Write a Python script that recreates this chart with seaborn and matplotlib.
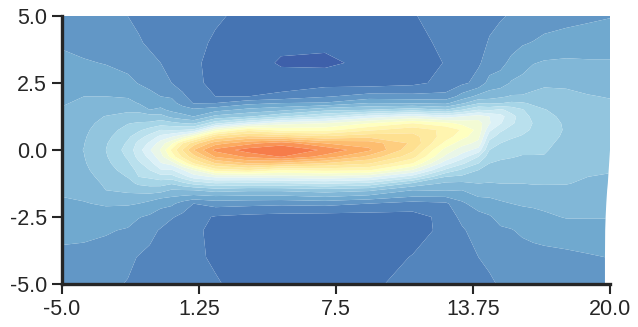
import numpy as np
import seaborn as sns
import matplotlib.pyplot as plt

# band values, one list per x position, top row first
y_rows = [5, 4, 3.25, 2.5, 2, 1.75, 1.5, 1.25, 1, .75, .5, .25, 0,
          -.25, -.5, -.75, -1, -1.25, -1.5, -1.75, -2, -2.5, -3, -4, -5]
x_cols = [-5, -4, -3, -2, -1.5, -1, -.5, 0, .5, 1, 2, 3.5, 5, 7, 9, 11, 12.5, 13.25,
          14, 14.5, 15, 15.5, 16, 16.5, 17, 18, 19, 20]

col_m5 = [3.7, 3.85, 4.3, 4.5, 4.75, 4.9, 5.1, 5.25, 5.4, 5.5, 5.6, 5.65, 5.65,
          5.6, 5.55, 5.45, 5.35, 5.25, 5.1, 5.0, 4.85, 4.55, 4.3, 3.75, 3.4]
col_m4 = [3.45, 3.65, 4.1, 4.6, 5.0, 5.2, 5.4, 5.55, 5.7, 5.8, 5.9, 5.97, 6.02,
          5.97, 5.9, 5.8, 5.65, 5.5, 5.3, 5.1, 4.95, 4.6, 4.25, 3.7, 3.3]
col_m3 = [3.25, 3.5, 3.95, 4.5, 5.0, 5.2, 5.55, 6.05, 6.3, 6.55, 6.7, 6.9, 7.0,
          6.9, 6.75, 6.55, 6.35, 6.15, 6.0, 5.4, 5.1, 4.6, 4.1, 3.6, 3.2]
col_m2 = [3.0, 3.2, 3.7, 4.25, 4.9, 5.3, 5.8, 6.35, 6.95, 7.35, 7.8, 8.15, 8.4,
          8.15, 7.8, 7.45, 7.05, 6.6, 6.2, 5.7, 5.1, 4.4, 3.9, 3.2, 2.95]
col_m15 = [2.8, 3.1, 3.55, 3.95, 4.6, 4.95, 5.75, 6.4, 7.1, 7.8, 8.6, 9.3, 9.6,
           9.35, 8.8, 8.3, 8.0, 7.2, 6.3, 5.65, 5.0, 4.05, 3.6, 2.95, 2.75]
col_m1 = [2.7, 2.85, 3.25, 3.75, 4.25, 4.6, 5.0, 6.45, 7.15, 8.4, 9.35, 10.2, 10.9,
          10.3, 9.6, 9.0, 8.2, 7.35, 6.5, 5.5, 4.7, 3.85, 3.3, 2.75, 2.6]
col_m05 = [2.6, 2.65, 3.0, 3.4, 4.0, 4.6, 5.2, 6.4, 7.5, 9.0, 10.3, 11.5, 12.1,
           11.6, 10.9, 9.9, 8.6, 7.4, 6.4, 5.2, 4.3, 3.5, 2.9, 2.6, 2.55]
col_0 = [2.5, 2.5, 2.8, 3.0, 3.9, 4.3, 4.75, 5.7, 7.3, 8.9, 10.9, 12.8, 14.2,
         13.4, 11.4, 9.9, 8.6, 7.1, 5.9, 5.0, 4.2, 3.1, 2.5, 2.5, 2.5]
col_05 = [2.4, 2.35, 2.5, 2.6, 3.2, 3.65, 4.45, 5.35, 7.0, 9.0, 11.8, 15.0, 16.05,
          15.2, 13.2, 10.9, 9.5, 7.7, 5.95, 4.8, 3.6, 2.75, 2.35, 2.35, 2.4]
col_1 = [2.25, 2.2, 2.2, 2.35, 2.6, 2.95, 4.2, 5.0, 6.8, 9.2, 13.2, 16.5, 18.0,
         16.6, 15.0, 12.0, 10.5, 8.3, 6.0, 4.6, 3.0, 2.4, 2.2, 2.2, 2.25]
col_2 = [2.1, 1.9, 1.65, 1.6, 2.0, 3.0, 4.6, 6.3, 8.7, 12.6, 16.2, 18.6, 20.3,
         19.1, 17.0, 14.5, 11.2, 8.9, 6.4, 4.8, 3.4, 1.9, 1.75, 1.85, 2.1]
col_35 = [1.8, 1.5, 1.4, 1.5, 2.0, 3.7, 5.3, 6.9, 10.3, 14.6, 17.2, 19.7, 21.5,
          20.2, 18.0, 15.0, 11.3, 8.7, 6.2, 4.7, 3.3, 1.7, 1.4, 1.4, 1.6]
col_5 = [1.5, 1.2, .9, 1.4, 2.3, 4.0, 5.7, 7.9, 11.6, 13.6, 16.9, 20.6, 21.8,
         21.05, 17.7, 14.0, 11.5, 8.8, 6.2, 4.7, 3.2, 1.6, 1.35, 1.2, 1.4]
col_7 = [1.5, 1.2, .8, 1.6, 2.9, 4.1, 6.7, 9.0, 12.0, 13.6, 16.2, 19.0, 20.85,
         19.6, 16.9, 14.3, 11.7, 9.1, 6.5, 5.0, 3.3, 1.5, 1.3, 1.3, 1.4]
col_9 = [1.6, 1.3, 1.25, 1.5, 3.4, 5.0, 7.0, 10.4, 13.0, 14.8, 16.7, 18.6, 19.2,
         17.7, 16.1, 14.1, 11.3, 8.7, 6.2, 4.6, 3.0, 1.5, 1.2, 1.5, 1.8]
col_11 = [1.95, 1.7, 1.5, 1.75, 3.3, 4.9, 7.6, 11.3, 14.0, 15.6, 16.4, 16.8, 16.2,
          15.4, 14.0, 11.9, 9.5, 6.8, 5.0, 3.95, 2.6, 1.6, 1.6, 2.05, 2.35]
col_125 = [2.3, 2.2, 2.05, 2.3, 3.3, 4.75, 7.0, 10.5, 13.3, 14.75, 14.5, 13.7, 12.6,
           11.8, 10.4, 8.8, 7.0, 5.8, 5.1, 4.0, 2.8, 2.3, 2.25, 2.4, 2.65]
col_1325 = [2.5, 2.45, 2.4, 2.8, 4.4, 5.8, 8.0, 11.0, 12.7, 13.9, 13.4, 12.4, 11.5,
            10.5, 9.2, 7.8, 6.8, 5.75, 5.0, 4.3, 3.85, 3.3, 2.85, 2.65, 2.65]
col_14 = [2.7, 2.8, 2.9, 3.3, 5.3, 6.9, 9.0, 11.5, 12.45, 12.65, 12.3, 11.7, 10.6,
          9.0, 8.0, 7.0, 6.5, 6.0, 5.5, 5.0, 4.4, 3.7, 3.5, 3.0, 2.7]
col_145 = [2.85, 3.05, 3.35, 4.4, 5.5, 6.85, 8.8, 11.0, 11.1, 10.25, 9.4, 8.6, 8.0,
           7.5, 7.0, 6.65, 6.3, 5.95, 5.5, 5.05, 4.6, 3.9, 3.6, 3.2, 2.85]
col_15 = [2.95, 3.2, 3.7, 4.5, 5.8, 6.95, 9.2, 10.4, 10.1, 9.2, 8.6, 8.0, 7.6,
          7.2, 6.8, 6.6, 6.3, 6.0, 5.6, 5.2, 4.85, 4.3, 3.85, 3.4, 3.1]
col_155 = [3.05, 3.6, 4.25, 5.1, 6.1, 7.2, 8.6, 9.35, 9.15, 8.65, 8.15, 7.7, 7.35,
           7.05, 6.8, 6.5, 6.3, 6.0, 5.6, 5.3, 5.0, 4.4, 3.95, 3.45, 3.15]
col_16 = [3.15, 3.9, 4.6, 5.3, 6.1, 7.1, 8.1, 8.55, 8.6, 8.3, 7.9, 7.4, 7.15,
          6.95, 6.7, 6.5, 6.25, 6.0, 5.7, 5.4, 5.1, 4.6, 4.15, 3.6, 3.2]
col_165 = [3.3, 4.05, 4.95, 5.7, 6.2, 6.85, 7.3, 7.7, 7.95, 7.85, 7.6, 7.35, 7.15,
           6.95, 6.7, 6.5, 6.3, 6.05, 5.75, 5.45, 5.15, 4.7, 4.3, 3.65, 3.25]
col_17 = [3.4, 4.3, 5.1, 5.85, 6.3, 6.65, 7.05, 7.3, 7.5, 7.5, 7.35, 7.2, 7.1,
          6.95, 6.75, 6.55, 6.35, 6.05, 5.8, 5.5, 5.2, 4.85, 4.4, 3.7, 3.3]
col_18 = [3.6, 4.5, 5.15, 5.85, 6.2, 6.4, 6.6, 6.75, 6.85, 6.9, 6.85, 6.75, 6.6,
          6.5, 6.4, 6.3, 6.15, 6.03, 5.85, 5.6, 5.35, 5.05, 4.6, 3.75, 3.4]
col_19 = [3.8, 4.55, 5.1, 5.7, 6.05, 6.25, 6.4, 6.55, 6.6, 6.65, 6.6, 6.55, 6.45,
          6.35, 6.3, 6.15, 6.0, 5.9, 5.7, 5.5, 5.35, 5.05, 4.65, 3.9, 3.5]
col_20 = [3.95, 4.55, 5.1, 5.6, 5.95, 6.1, 6.2, 6.3, 6.35, 6.4, 6.4, 6.35, 6.3,
          6.2, 6.15, 6.05, 5.95, 5.8, 5.65, 5.5, 5.35, 5.05, 4.65, 4.0, 3.6]

# the fill stops a little short of 20 towards the bottom right
right_edge = [20, 20, 20, 20, 20, 20, 20, 20, 20, 20, 20, 20, 20,
              19.98, 19.96, 19.94, 19.92, 19.9, 19.87, 19.85, 19.83, 19.8, 19.78, 19.77, 19.77]

x_ticks = [-5.0, 1.25, 7.5, 13.75, 20.0]
y_ticks = [-5.0, -2.5, 0.0, 2.5, 5.0]

sns.set_style("ticks")
plt.rcParams['font.family'] = ['Liberation Sans', 'DejaVu Sans']
plt.rcParams['axes.unicode_minus'] = False

z = np.column_stack([col_m5, col_m4, col_m3, col_m2, col_m15, col_m1, col_m05, col_0, col_05, col_1,
                     col_2, col_35, col_5, col_7, col_9, col_11, col_125, col_1325, col_14, col_145,
                     col_15, col_155, col_16, col_165, col_17, col_18, col_19, col_20])
X, Y = np.meshgrid(x_cols, y_rows)
X[:, -1] = right_edge

levels = np.arange(0, 23)
cmap = sns.color_palette("RdYlBu_r", as_cmap=True)
band_colors = [cmap(0.07 + 0.031 * k if k <= 6 else 0.256 + 0.0345 * (k - 6)) for k in range(len(levels) - 1)]

fig = plt.figure(figsize=(6.38, 3.27), dpi=100)
ax = fig.add_axes([62 / 638, 43 / 327, 548 / 638, 268 / 327])
ax.contourf(X, Y, z, levels=levels, colors=band_colors, antialiased=True)
ax.set_xlim(-5, 20)
ax.set_ylim(-5, 5)
ax.set_xticks(x_ticks)
ax.set_xticklabels(["-5.0", "1.25", "7.5", "13.75", "20.0"])
ax.set_yticks(y_ticks)
ax.set_yticklabels(["-5.0", "-2.5", "0.0", "2.5", "5.0"])
ax.tick_params(length=7.2, width=1.5, color="#262626", labelcolor="#262626", labelsize=15.5, pad=3.5)
sns.despine(ax=ax)
for side in ["left", "bottom"]:
    ax.spines[side].set_linewidth(2.4)
    ax.spines[side].set_color("#262626")
fig.savefig("out.png", dpi=100)
